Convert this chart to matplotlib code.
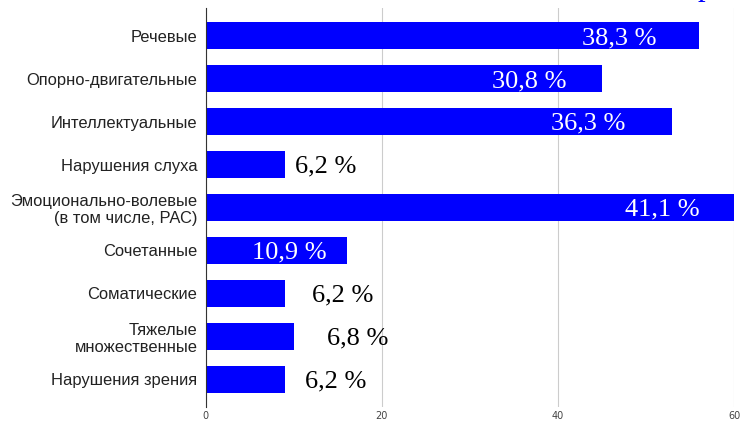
import numpy as np
import matplotlib
matplotlib.use("Agg")
import matplotlib.pyplot as plt

# данные
categories = ['Речевые', 'Опорно-двигательные', 'Интеллектуальные', 'Нарушения слуха',
              'Эмоционально-волевые\n(в том числе, РАС)', 'Сочетанные', 'Соматические',
              'Тяжелые\nмножественные', 'Нарушения зрения']
values = [56, 45, 53, 9, 60, 16, 9, 10, 9]
pct_labels = ['38,3 %', '30,8 %', '36,3 %', '6,2 %', '41,1 %', '10,9 %', '6,2 %', '6,8 %', '6,2 %']

# положение подписей (центр, в единицах оси x) и цвет
label_x = [47.0, 36.7, 43.4, 13.6, 51.8, 9.5, 15.5, 17.3, 14.8]
label_color = ['white', 'white', 'white', 'black', 'white', 'white', 'black', 'black', 'black']

fig = plt.figure(figsize=(7.4, 4.21), dpi=100)
ax = fig.add_axes([0.278, 0.033, 0.714, 0.948])

y = np.arange(len(categories))
ax.barh(y, values, height=0.63, color='#0000ff')

for yi, lx, txt, c in zip(y, label_x, pct_labels, label_color):
    ax.text(lx, yi + 0.05, txt, ha='center', va='center', color=c,
            fontsize=19, family='Liberation Serif')

ax.set_yticks(y)
ax.set_yticklabels(categories, fontsize=11.9, family='Liberation Sans', color='#222222')
ax.set_ylim(len(categories) - 0.35, -0.65)
ax.set_xlim(0, 60)
ax.set_xticks([0, 20, 40, 60])
ax.tick_params(axis='x', length=0, labelsize=7, labelcolor='#444444', pad=3)
ax.tick_params(axis='y', length=0, pad=6)
ax.xaxis.grid(True, color='#cccccc', linewidth=0.8)
ax.set_axisbelow(True)
for s in ['top', 'right', 'bottom']:
    ax.spines[s].set_visible(False)
ax.spines['left'].set_color('#333333')
ax.spines['left'].set_linewidth(0.8)

# обрезанный заголовок вверху справа
fig.text(0.943, 1.012, 'р', color='#0000ff', fontsize=22, family='Liberation Serif',
         ha='left', va='baseline')

fig.savefig('out.png', dpi=100)
